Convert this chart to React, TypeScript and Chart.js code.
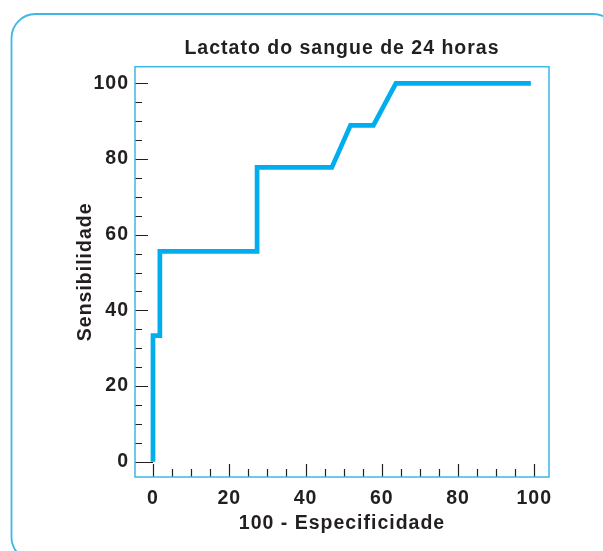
import React, { useEffect, useRef } from "react";
import { Chart, registerables } from "chart.js";

Chart.register(...registerables);

const titleText = "Lactato do sangue de 24 horas";
const xAxisTitle = "100 - Especificidade";
const yAxisTitle = "Sensibilidade";
const xTickValues = [0, 20, 40, 60, 80, 100];
const yTickValues = [0, 20, 40, 60, 80, 100];
const minorStep = 5;
const specificityComplement = [0, 0, 1.8, 1.8, 27.3, 27.3, 46.9, 51.8, 57.8, 63.7, 99.1];
const sensitivity = [0, 33.3, 33.3, 55.6, 55.6, 77.8, 77.8, 88.9, 88.9, 100, 100];

const TEXT = "#231F20";
const BLUE = "#00AEEF";
const FRAME = "#3DB8E6";
const FONT = "'Liberation Sans', Arial, Helvetica, sans-serif";

const framePlugin = {
  id: "frame",
  beforeDraw(chart: any) {
    const ctx = chart.ctx;
    ctx.save();
    ctx.strokeStyle = FRAME;
    ctx.lineWidth = 1.8;
    ctx.beginPath();
    (ctx as any).roundRect(11.5, 14, 605.5, 547, 24);
    ctx.stroke();
    ctx.restore();
    try {
      (ctx as any).letterSpacing = "1px";
    } catch (e) {}
  },
};

const innerTicksPlugin = {
  id: "innerTicks",
  beforeDatasetsDraw(chart: any) {
    const ctx = chart.ctx;
    const { left, right, top, bottom } = chart.chartArea;
    const xs = chart.scales.x;
    const ys = chart.scales.y;
    ctx.save();
    ctx.strokeStyle = TEXT;
    ctx.lineWidth = 1.2;
    ctx.beginPath();
    for (let v = 0; v <= 100; v += minorStep) {
      const major = yTickValues.includes(v);
      const py = Math.round(ys.getPixelForValue(v)) + 0.5;
      let len = major ? 13 : 7;
      if (v === 0) len = xs.getPixelForValue(0) - left;
      ctx.moveTo(left, py);
      ctx.lineTo(left + len, py);
    }
    for (let v = 0; v <= 100; v += minorStep) {
      const major = xTickValues.includes(v);
      const px = Math.round(xs.getPixelForValue(v)) + 0.5;
      const len = major ? 13 : 8;
      ctx.moveTo(px, bottom);
      ctx.lineTo(px, bottom - len);
    }
    ctx.stroke();
    ctx.strokeStyle = FRAME;
    ctx.lineWidth = 1.5;
    ctx.strokeRect(left, top, right - left, bottom - top);
    ctx.restore();
  },
};

export default function App() {
  const ref = useRef<HTMLCanvasElement | null>(null);

  useEffect(() => {
    if (!ref.current) return;
    const points = specificityComplement.map((x, i) => ({ x, y: sensitivity[i] }));
    const font = (size: number) => ({ family: FONT, size, weight: "bold" as const });
    const chart = new Chart(ref.current, {
      type: "scatter",
      data: {
        datasets: [
          {
            data: points,
            showLine: true,
            borderColor: BLUE,
            borderWidth: 4.7,
            borderJoinStyle: "miter",
            borderCapStyle: "butt",
            pointRadius: 0,
            pointHoverRadius: 0,
            fill: false,
            clip: false,
          } as any,
        ],
      },
      plugins: [framePlugin, innerTicksPlugin],
      options: {
        animation: false,
        responsive: false,
        devicePixelRatio: 1,
        layout: { padding: { left: 0, top: 0, right: 54, bottom: 0 } },
        plugins: {
          legend: { display: false },
          tooltip: { enabled: false },
          title: {
            display: true,
            text: titleText,
            color: TEXT,
            font: font(19.5),
            fullSize: false,
            padding: { top: 37, bottom: 6.3 },
          },
        },
        scales: {
          x: {
            type: "linear",
            min: -4.72,
            max: 103.86,
            grid: { display: false, drawTicks: false },
            border: { display: false },
            afterBuildTicks: (s: any) => {
              s.ticks = xTickValues.map((v) => ({ value: v }));
            },
            afterFit: (s: any) => {
              s.height = 74;
            },
            ticks: {
              color: TEXT,
              font: font(19.5),
              padding: 10,
              maxRotation: 0,
              autoSkip: false,
              callback: (v: any) => String(v),
            },
            title: {
              display: true,
              text: xAxisTitle,
              color: TEXT,
              font: font(19.5),
              padding: { top: 0, bottom: 16 },
            },
          },
          y: {
            type: "linear",
            min: -4.04,
            max: 104.4,
            grid: { display: false, drawTicks: false },
            border: { display: false },
            afterBuildTicks: (s: any) => {
              s.ticks = yTickValues.map((v) => ({ value: v }));
            },
            afterFit: (s: any) => {
              s.width = 135;
            },
            ticks: {
              color: TEXT,
              font: font(19.5),
              padding: 6,
              autoSkip: false,
              callback: (v: any) => String(v),
            },
            title: {
              display: true,
              text: yAxisTitle,
              color: TEXT,
              font: font(19.5),
              padding: { top: 74, bottom: 0 },
            },
          },
        },
      } as any,
    });
    return () => chart.destroy();
  }, []);

  return (
    <div style={{ position: "absolute", left: 0, top: 0, width: 603, height: 551, background: "#fff" }}>
      <canvas ref={ref} width={603} height={551} style={{ display: "block" }} />
    </div>
  );
}
